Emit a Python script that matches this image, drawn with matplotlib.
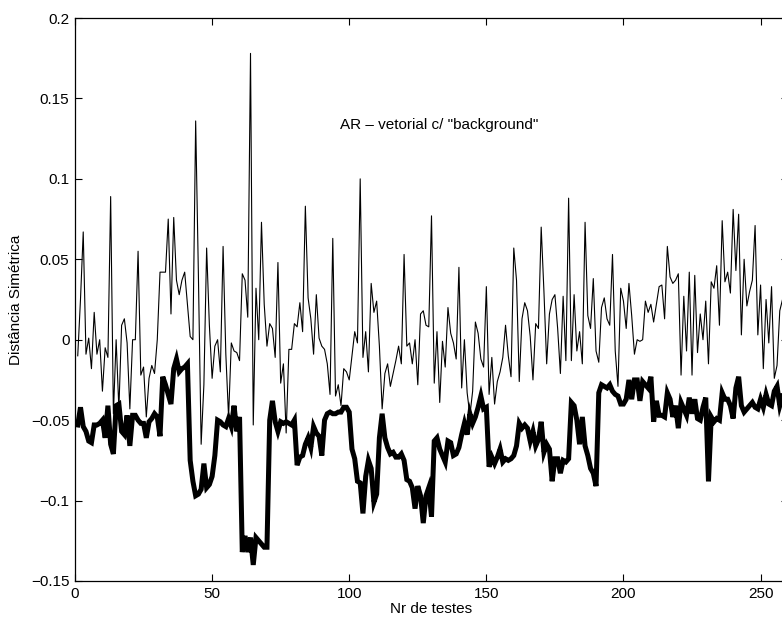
import matplotlib
matplotlib.use("Agg")
import matplotlib.pyplot as plt
import numpy as np

plt.rcParams['font.family'] = ['Liberation Sans', 'DejaVu Sans']

# Thin series (upper), x = 1..258
thin = [
    -0.010, 0.025, 0.067, -0.009, 0.001, -0.018, 0.017, -0.009, 0.000, -0.032,
    -0.005, -0.011, 0.089, -0.046, 0.000, -0.043, 0.009, 0.013, -0.002, -0.043,
    0.000, 0.000, 0.055, -0.022, -0.017, -0.048, -0.024, -0.016, -0.021, 0.000,
    0.042, 0.042, 0.042, 0.075, 0.016, 0.076, 0.037, 0.028, 0.037, 0.042,
    0.022, 0.002, 0.000, 0.136, 0.040, -0.065, -0.028, 0.057, 0.009, -0.024,
    -0.004, 0.000, -0.020, 0.058, -0.009, -0.048, -0.002, -0.007, -0.008, -0.013,
    0.041, 0.037, 0.014, 0.178, -0.053, 0.032, 0.000, 0.073, 0.022, -0.004,
    0.010, 0.007, -0.011, 0.048, -0.027, -0.015, -0.058, -0.006, -0.006, 0.010,
    0.008, 0.023, 0.005, 0.083, 0.026, 0.013, -0.009, 0.028, 0.001, -0.004,
    -0.006, -0.015, -0.034, 0.063, -0.035, -0.028, -0.041, -0.018, -0.020, -0.025,
    -0.010, 0.005, -0.002, 0.100, -0.011, 0.005, -0.020, 0.035, 0.017, 0.024,
    -0.004, -0.043, -0.021, -0.015, -0.029, -0.021, -0.013, -0.004, -0.015, 0.053,
    -0.004, -0.002, -0.015, 0.000, -0.028, 0.016, 0.018, 0.009, 0.008, 0.077,
    -0.027, 0.005, -0.039, -0.001, -0.017, 0.020, 0.004, -0.002, -0.012, 0.045,
    -0.030, 0.000, -0.033, -0.047, -0.032, 0.011, 0.004, -0.012, -0.017, 0.033,
    -0.034, -0.011, -0.040, -0.026, -0.020, -0.011, 0.009, -0.010, -0.023, 0.057,
    0.037, -0.026, 0.013, 0.023, 0.018, 0.002, -0.025, 0.010, 0.007, 0.070,
    0.030, -0.015, 0.016, 0.025, 0.028, 0.007, -0.021, 0.027, -0.013, 0.088,
    -0.013, 0.028, -0.007, 0.005, -0.015, 0.073, 0.015, 0.007, 0.038, -0.007,
    -0.014, 0.020, 0.026, 0.013, 0.009, 0.053, -0.007, -0.029, 0.032, 0.024,
    0.007, 0.035, 0.015, -0.009, 0.000, -0.001, 0.000, 0.024, 0.017, 0.022,
    0.011, 0.022, 0.033, 0.034, 0.013, 0.058, 0.039, 0.035, 0.037, 0.041,
    -0.022, 0.027, -0.007, 0.042, -0.022, 0.040, -0.008, 0.016, 0.000, 0.024,
    -0.015, 0.036, 0.032, 0.046, 0.009, 0.074, 0.036, 0.042, 0.029, 0.081,
    0.043, 0.078, 0.003, 0.050, 0.021, 0.030, 0.037, 0.071, 0.003, 0.034,
    -0.018, 0.025, -0.002, 0.033, -0.024, -0.016, 0.018, 0.025,
]

# Thick series (lower), x = 1..258
thick = [
    -0.053, -0.042, -0.054, -0.057, -0.063, -0.064, -0.053, -0.053, -0.052, -0.050,
    -0.061, -0.041, -0.065, -0.071, -0.041, -0.040, -0.057, -0.059, -0.047, -0.066,
    -0.047, -0.047, -0.050, -0.052, -0.052, -0.061, -0.051, -0.049, -0.046, -0.048,
    -0.060, -0.023, -0.028, -0.034, -0.040, -0.018, -0.012, -0.020, -0.018, -0.017,
    -0.015, -0.075, -0.088, -0.097, -0.096, -0.093, -0.077, -0.092, -0.090, -0.085,
    -0.072, -0.050, -0.051, -0.053, -0.054, -0.049, -0.054, -0.041, -0.057, -0.048,
    -0.132, -0.122, -0.132, -0.123, -0.140, -0.123, -0.125, -0.127, -0.129, -0.129,
    -0.050, -0.038, -0.051, -0.057, -0.051, -0.052, -0.051, -0.052, -0.053, -0.050,
    -0.078, -0.073, -0.072, -0.065, -0.061, -0.067, -0.054, -0.058, -0.060, -0.072,
    -0.050, -0.046, -0.045, -0.046, -0.046, -0.045, -0.045, -0.042, -0.042, -0.045,
    -0.068, -0.074, -0.088, -0.089, -0.108, -0.085, -0.075, -0.080, -0.101, -0.096,
    -0.061, -0.046, -0.061, -0.067, -0.071, -0.070, -0.073, -0.073, -0.071, -0.075,
    -0.087, -0.088, -0.092, -0.105, -0.091, -0.097, -0.114, -0.097, -0.092, -0.110,
    -0.063, -0.061, -0.068, -0.072, -0.076, -0.063, -0.064, -0.072, -0.071, -0.067,
    -0.059, -0.052, -0.059, -0.046, -0.052, -0.048, -0.042, -0.035, -0.043, -0.042,
    -0.079, -0.073, -0.077, -0.073, -0.068, -0.076, -0.074, -0.075, -0.074, -0.072,
    -0.066, -0.052, -0.055, -0.053, -0.055, -0.063, -0.057, -0.066, -0.062, -0.051,
    -0.070, -0.065, -0.068, -0.088, -0.074, -0.074, -0.083, -0.075, -0.076, -0.074,
    -0.039, -0.041, -0.050, -0.065, -0.048, -0.066, -0.072, -0.080, -0.083, -0.091,
    -0.033, -0.028, -0.029, -0.030, -0.028, -0.032, -0.034, -0.035, -0.040, -0.040,
    -0.037, -0.025, -0.037, -0.025, -0.025, -0.038, -0.026, -0.028, -0.030, -0.023,
    -0.051, -0.038, -0.047, -0.047, -0.048, -0.033, -0.037, -0.048, -0.041, -0.055,
    -0.039, -0.043, -0.047, -0.036, -0.046, -0.037, -0.049, -0.050, -0.042, -0.036,
    -0.088, -0.048, -0.051, -0.049, -0.050, -0.033, -0.037, -0.037, -0.041, -0.049,
    -0.030, -0.023, -0.041, -0.045, -0.043, -0.041, -0.039, -0.042, -0.043, -0.037,
    -0.042, -0.034, -0.040, -0.041, -0.032, -0.029, -0.041, -0.035,
]

x = np.arange(1, len(thin) + 1)

xticks = [0, 50, 100, 150, 200, 250]
yticks = [-0.15, -0.1, -0.05, 0, 0.05, 0.1, 0.15, 0.2]
ytick_labels = ['\u22120.15', '\u22120.1', '\u22120.05', '0', '0.05', '0.1', '0.15', '0.2']

annotation = 'AR \u2013 vetorial c/ "background"'

fig = plt.figure(figsize=(7.82, 6.21), dpi=100)
ax = fig.add_axes([75 / 782, 40 / 621, 713 / 782, 563 / 621])

ax.plot(x, thin, color='black', linewidth=0.8)
ax.plot(x, thick, color='black', linewidth=3.6, solid_joinstyle='miter')

ax.set_xlim(0, 260)
ax.set_ylim(-0.15, 0.2)
ax.set_xticks(xticks)
ax.set_xticklabels([str(t) for t in xticks])
ax.set_yticks(yticks)
ax.set_yticklabels(ytick_labels)

ax.tick_params(direction='in', length=5, width=0.8, labelsize=11, pad=4,
               top=True, right=True, colors='black')
for s in ax.spines.values():
    s.set_linewidth(0.9)

ax.set_xlabel('Nr de testes', fontsize=11, labelpad=1)
ax.set_ylabel('Distância Simétrica', fontsize=11, labelpad=6)

ax.text(96.5, 0.1335, annotation, fontsize=11, ha='left', va='center')

fig.savefig('out.png', dpi=100)
